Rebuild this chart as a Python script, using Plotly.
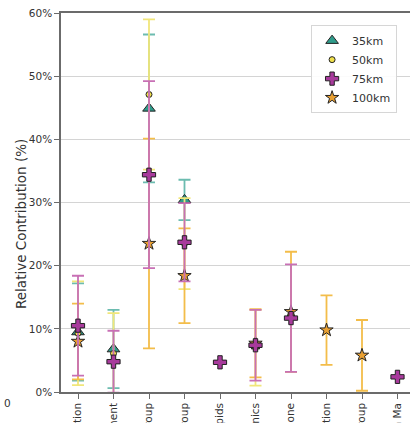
import plotly.graph_objects as go

# Category tick labels (as they appear along the bottom axis)
categories = ["tion", "ment", "roup", "roup", "pids", "nics", "one", "tion", "roup", "n Ma"]
x_pos = list(range(len(categories)))

# Relative contribution (%) and symmetric uncertainty per distance
km35 = [9.5, 6.8, 44.9, 30.4, None, None, None, None, None, None]
km35_err = [7.7, 6.2, 11.7, 3.2, None, None, None, None, None, None]

km50 = [9.3, 6.1, 47.1, 23.5, None, 7.0, None, None, None, None]
km50_err = [8.2, 6.4, 11.9, 7.2, None, 6.0, None, None, None, None]

km75 = [10.5, 4.8, 34.4, 23.7, 4.7, 7.4, 11.7, None, None, 2.4]
km75_err = [7.9, 4.9, 14.8, 6.2, None, 5.6, 8.5, None, None, None]

km100 = [8.0, None, 23.5, 18.4, None, 7.7, 12.7, 9.8, 5.8, None]
km100_err = [6.0, None, 16.6, 7.5, None, 5.4, 9.5, 5.5, 5.6, None]

# name, values, errors, symbol, size, fill, bar colour, legend rank
series = [
    ("35km", km35, km35_err, "triangle-up", 11, "#2f9c8b", "#6cbcb0", 1),
    ("50km", km50, km50_err, "circle", 6, "#f0e04a", "#f1e67a", 2),
    ("100km", km100, km100_err, "star", 10, "#e9a032", "#f3bd4a", 4),
    ("75km", km75, km75_err, "cross", 11, "#a83a9c", "#c870b5", 3),
]

FONT = "DejaVu Sans"

fig = go.Figure()
for name, vals, errs, sym, size, fill, ecol, rank in series:
    fig.add_trace(go.Scatter(
        x=x_pos, y=vals, name=name, mode="markers", legendrank=rank,
        marker=dict(symbol=sym, size=size, color=fill,
                    line=dict(color="#222222", width=1)),
        error_y=dict(type="data", array=errs, visible=True,
                     color=ecol, thickness=1.8, width=6),
    ))

fig.update_layout(
    width=410, height=423,
    margin=dict(l=61, r=0, t=13, b=31, autoexpand=False),
    paper_bgcolor="white", plot_bgcolor="white",
    font=dict(family=FONT, size=11, color="#333333"),
    showlegend=True,
    legend=dict(
        x=0.963, y=0.968, xanchor="right", yanchor="top",
        bgcolor="rgba(255,255,255,0.9)", bordercolor="#d6d6d6", borderwidth=1,
        font=dict(family=FONT, size=11, color="#333333"),
        tracegroupgap=0, itemsizing="trace", itemwidth=30,
    ),
)

fig.update_xaxes(
    range=[-0.479, 9.352],
    tickvals=x_pos, ticktext=categories, tickangle=-90,
    showgrid=False, zeroline=False,
    showline=True, linecolor="#6b6b6b", linewidth=1.5, mirror=True,
    ticks="outside", ticklen=5, tickcolor="#6b6b6b",
    tickfont=dict(family=FONT, size=10.5, color="#333333"),
    automargin=False,
)

fig.update_yaxes(
    range=[0, 60], dtick=10, ticksuffix="%",
    showgrid=True, gridcolor="#d4d4d4", gridwidth=1,
    zeroline=False,
    showline=True, linecolor="#6b6b6b", linewidth=1.5, mirror=False,
    ticks="outside", ticklen=5, tickcolor="#6b6b6b",
    tickfont=dict(family=FONT, size=10.5, color="#333333"),
    automargin=False,
)

# Y-axis title placed as rotated text beside the tick labels
fig.add_annotation(
    text="Relative Contribution (%)", xref="paper", yref="paper",
    x=-0.115, y=0.443, xanchor="center", yanchor="middle", textangle=-90,
    showarrow=False, font=dict(family=FONT, size=13.5, color="#333333"),
)

fig.add_annotation(
    text="0", xref="paper", yref="paper",
    x=-0.17, y=-0.03, xanchor="left", yanchor="middle",
    showarrow=False, font=dict(family=FONT, size=10.5, color="#333333"),
)

fig.write_html("out.html")
